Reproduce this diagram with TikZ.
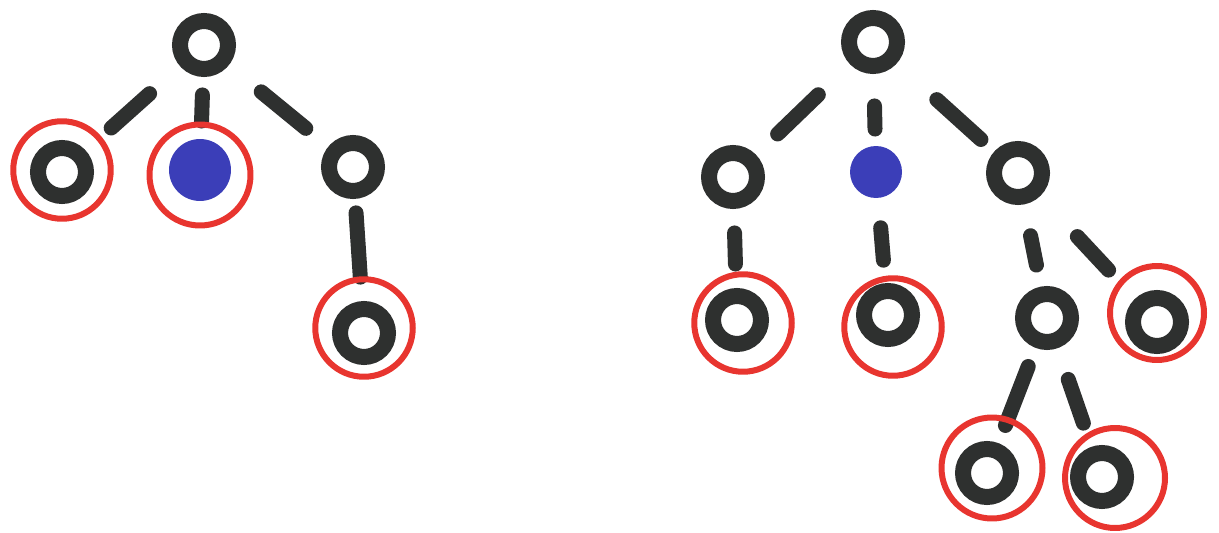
\documentclass[tikz,border=0pt]{standalone}
\usetikzlibrary{positioning}
\definecolor{treeInk}{HTML}{2E302F}
\definecolor{treeBlue}{HTML}{3B3EB8}
\definecolor{treeRed}{HTML}{E8352F}
\tikzset{
  tree/ring/.style={circle, draw=treeInk, line width=0.32cm,
    minimum size=0.96cm, inner sep=0pt},
  tree/dot/.style={circle, fill=treeBlue, inner sep=0pt, minimum size=#1},
  tree/picked/.style={circle, draw=treeRed, line width=0.12cm,
    minimum size=1.95cm, inner sep=0pt},
  tree/edge/.style args={#1/#2}{draw=treeInk, line width=0.3cm,
    line cap=round, shorten <=#1, shorten >=#2},
}

\begin{document}
\begin{tikzpicture}[x=0.02cm, y=-0.02cm]
\useasboundingbox (0,0) rectangle (1219,533);

% ===== Left tree =====
\node[tree/ring] (Lroot) at (204,45) {};
\node[tree/ring] (L1) at (62,172) {};
\node[tree/dot=1.24cm] (L2) at (200,170) {};
\node[tree/ring] (L3) at (353,167) {};
\node[tree/ring] (L4) at (364,333) {};

\draw[tree/edge=1.46cm/1.32cm] (Lroot.center) -- (L1.center);
\draw[tree/edge=1.00cm/0.98cm] (Lroot.center) -- (L2.center);
\draw[tree/edge=1.48cm/1.22cm] (Lroot.center) -- (L3.center);
\draw[tree/edge=0.92cm/1.12cm] (L3.center) -- (L4.center);

\node[tree/picked] (L1p) at (62,170) {};
\node[tree/picked, minimum size=2.02cm] (L2p) at (200,175) {};
\node[tree/picked] (L4p) at (364,328) {};

% ===== Right tree =====
\node[tree/ring] (Rroot) at (873,42) {};
\node[tree/ring] (RA) at (733,177) {};
\node[tree/dot=1.04cm] (RB) at (876,172) {};
\node[tree/ring] (RC) at (1018,173) {};
\node[tree/ring] (RA1) at (737,320) {};
\node[tree/ring] (RB1) at (888,315) {};
\node[tree/ring] (RC1) at (1047,318) {};
\node[tree/ring] (RC2) at (1157,322) {};
\node[tree/ring] (RC1a) at (987,473) {};
\node[tree/ring] (RC1b) at (1102,477) {};

\draw[tree/edge=1.52cm/1.24cm] (Rroot.center) -- (RA.center);
\draw[tree/edge=1.28cm/0.86cm] (Rroot.center) -- (RB.center);
\draw[tree/edge=1.72cm/1.00cm] (Rroot.center) -- (RC.center);
\draw[tree/edge=1.12cm/1.12cm] (RA.center) -- (RA1.center);
\draw[tree/edge=1.12cm/1.10cm] (RB.center) -- (RB1.center);
\draw[tree/edge=1.28cm/1.08cm] (RC.center) -- (RC1.center);
\draw[tree/edge=1.74cm/1.42cm] (RC.center) -- (RC2.center);
\draw[tree/edge=1.04cm/1.02cm] (RC1.center) -- (RC1a.center);
\draw[tree/edge=1.30cm/1.14cm] (RC1.center) -- (RC1b.center);

\node[tree/picked] (RA1p) at (743,323) {};
\node[tree/picked] (RB1p) at (893,327) {};
\node[tree/picked, minimum size=1.88cm] (RC2p) at (1157,313) {};
\node[tree/picked, minimum size=2.02cm] (RC1ap) at (992,468) {};
\node[tree/picked, minimum size=2.0cm] (RC1bp) at (1115,478) {};

\end{tikzpicture}
\end{document}
